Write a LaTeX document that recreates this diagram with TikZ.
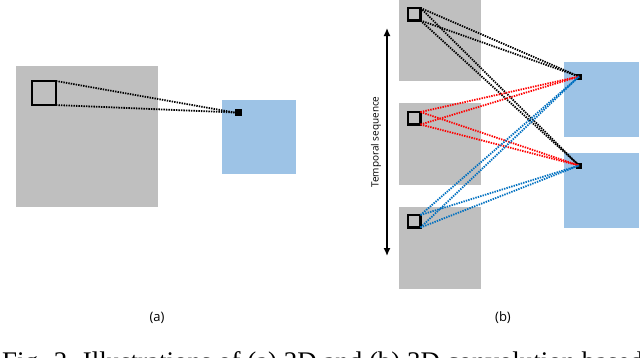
\documentclass[tikz,border=0pt]{standalone}
\usepackage{fontspec}
\usepackage{tikz}
\usetikzlibrary{arrows.meta, positioning}
\newfontfamily\labelfont{Open Sans}
\newfontfamily\captionfont{Liberation Serif}
\definecolor{framegray}{HTML}{BFBFBF}
\definecolor{featblue}{HTML}{9DC3E6}
\definecolor{linkred}{HTML}{FF0000}
\definecolor{linkblue}{HTML}{0070C0}

\begin{document}
\begin{tikzpicture}[x=1pt, y=-1pt, >={Latex[length=8pt, width=7pt]},
        frame/.style={fill=framegray, inner sep=0pt, outer sep=0pt},
        feat/.style={fill=featblue, inner sep=0pt, outer sep=0pt},
        kernel/.style={draw, line width=2.4pt, inner sep=0pt, outer sep=0pt, minimum size=#1},
        unit/.style={fill=black, inner sep=0pt, outer sep=0pt, minimum size=#1},
        link/.style={line width=1.8pt, dash pattern=on 1.4pt off 1.1pt},
        lab/.style={font=\labelfont\fontsize{13}{15}\selectfont}]
        \clip (0,0) rectangle (640,357);

        % (a) 2D
        \node[frame, minimum width=142pt, minimum height=141pt] (A) at (87,136.5) {};
        \node[feat, minimum size=74pt] (FA) at (259,137) {};
        \node[kernel=24pt] (KA) at (44,93) {};
        \node[unit=7pt] (UA) at (238,112.5) {};
        \draw[link] (KA.north east) -- (UA.west);
        \draw[link] (KA.south east) -- (UA.west);
        \node[lab] (LA) at (157,318) {(a)};

        % (b) 3D
        \node[frame, minimum width=82pt, minimum height=82pt] (B1) at (440,40) {};
        \node[frame, minimum width=82pt, minimum height=82pt, below=22pt of B1] (B2) {};
        \node[frame, minimum width=82pt, minimum height=82pt, below=22pt of B2] (B3) {};
        \node[feat, minimum size=75pt] (G1) at (601.5,99) {};
        \node[feat, minimum size=75pt, below=16pt of G1] (G2) {};
        \node[kernel=12.5pt, below right=9pt and 9pt of B1.north west] (K1) {};
        \node[kernel=12.5pt, below right=9pt and 9pt of B2.north west] (K2) {};
        \node[kernel=12.5pt, below right=8pt and 9pt of B3.north west] (K3) {};
        \node[unit=6pt] (U1) at (579,76.5) {};
        \node[unit=6pt] (U2) at (579,165.5) {};
        \foreach \k/\c in {K1/black, K2/linkred, K3/linkblue}
            \foreach \u in {U1, U2} {
                \draw[link, \c] (\k.north east) -- (\u.center);
                \draw[link, \c] (\k.south east) -- (\u.center);
            }
        \coordinate (T1) at (387,28);
        \coordinate (T2) at (387,256);
        \draw[<->, line width=1.4pt] (T1) -- (T2);
        \node[rotate=90, font=\labelfont\fontsize{10}{12}\selectfont] (TS) at (376,142) {Temporal sequence};
        \node[lab] (LB) at (503,318) {(b)};

        \node[anchor=base west, inner sep=0pt, font=\captionfont\fontsize{26.9}{32}\selectfont] (CAP) at (2,370) {Fig. 2. Illustrations of (a) 2D and (b) 3D convolution based};
    \end{tikzpicture}
\end{document}
